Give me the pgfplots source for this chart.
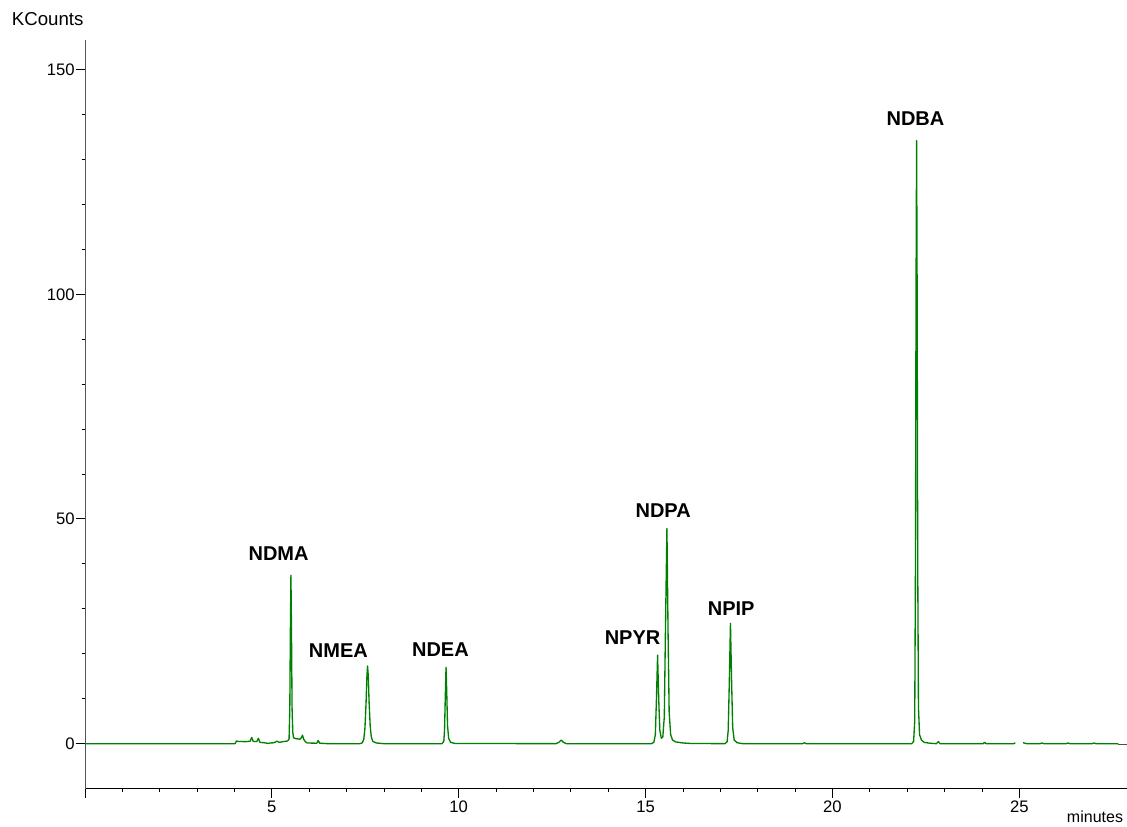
\documentclass[border=0pt]{standalone}
\usepackage{fontspec}
\setmainfont{Liberation Sans}
\usepackage{pgfplots}
\pgfplotsset{compat=1.18}
\definecolor{trace}{RGB}{0,128,0}
\definecolor{yax}{RGB}{85,85,85}
\begin{document}
\begin{tikzpicture}
\begin{axis}[
  at={(0,0)}, anchor=south west,
  scale only axis, width=781.5pt, height=561.45pt,
  xmin=0, xmax=27.88, ymin=-10, ymax=156.6,
  axis x line=bottom, axis y line=left, axis line style={-},
  x axis line style={black, line width=0.75pt},
  y axis line style={yax, line width=0.75pt},
  tick align=outside,
  every tick/.style={black, line width=0.75pt},
  xtick={0,5,10,15,20,25}, xticklabels={,5,10,15,20,25},
  minor x tick num=4,
  ytick={0,50,100,150}, minor y tick num=4,
  major tick length=7pt, minor tick length=2.6pt,
  /pgf/number format/assume math mode=true,
  tick label style={font=\fontsize{12.5}{14}\selectfont},
  yticklabel style={inner sep=0.6pt},
  xticklabel style={inner sep=2pt},
  clip=false,
]
\addplot[trace, line width=1pt, line join=round] coordinates {
(0,0) (4.0,0) (4.02,0.05) (4.05,0.6) (4.1,0.5) (4.3,0.45) (4.42,0.55) (4.46,1.4) (4.5,0.5)
(4.6,0.5) (4.64,1.2) (4.68,0.3) (4.8,0.2) (4.9,0.05) (4.95,0.15) (5.05,0.2) (5.14,0.55)
(5.2,0.3) (5.3,0.45) (5.42,0.6)
(5.46,1.0) (5.48,8) (5.495,25) (5.51,37.5) (5.525,25) (5.54,8) (5.56,2.5) (5.58,1.3)
(5.65,1.1) (5.75,1.0) (5.79,1.3) (5.82,1.9) (5.85,1.0) (5.9,0.4) (5.95,0.15) (6.2,0.1)
(6.24,0.7) (6.28,0.1) (6.5,0.0)
(7.35,0) (7.42,0.2) (7.46,1.0) (7.49,3.5) (7.52,9) (7.54,14.5) (7.56,17.3) (7.58,15)
(7.60,9.5) (7.63,4) (7.66,1.5) (7.7,0.5) (7.8,0.15) (8.0,0.0)
(9.55,0) (9.6,0.5) (9.62,3) (9.64,10.5) (9.66,17.0) (9.68,11) (9.70,4) (9.73,1.2)
(9.78,0.3) (9.9,0.05)
(12.6,0) (12.68,0.3) (12.74,0.8) (12.8,0.3) (12.88,0)
(15.15,0) (15.22,0.3) (15.26,2) (15.29,10) (15.32,19.7) (15.35,10) (15.38,3) (15.42,1.2)
(15.46,1.5) (15.50,6) (15.53,25) (15.57,47.9) (15.60,25) (15.63,7) (15.67,2) (15.72,0.8)
(15.8,0.4) (16.0,0.15) (16.2,0.05)
(17.12,0) (17.18,0.4) (17.21,3) (17.24,14) (17.27,26.8) (17.30,14) (17.33,3.5) (17.37,0.8)
(17.45,0.2) (17.6,0)
(19.2,0) (19.25,0.2) (19.3,0)
(22.12,0) (22.17,0.5) (22.2,5) (22.22,40) (22.235,100) (22.25,134.2) (22.265,100)
(22.28,40) (22.30,8) (22.33,2) (22.38,0.8) (22.45,0.3) (22.6,0.1)
(22.78,0) (22.83,0.45) (22.88,0) (24.03,0) (24.07,0.3) (24.11,0) (24.85,0) (24.89,0.2)
};
\addplot[trace, line width=1pt, line join=round] coordinates {
(25.1,0.2) (25.2,0) (25.55,0) (25.6,0.15) (25.65,0) (26.25,0) (26.3,0.15) (26.35,0)
(26.95,0) (27.0,0.15) (27.05,0) (27.65,0)
};
\addplot[black!70, line width=1.2pt] coordinates {(27.65,-0.2) (27.88,-0.2)};
\tikzset{lab/.style={font=\fontsize{15}{18}\selectfont\bfseries, inner sep=0pt}}
\node[lab] at (axis cs:5.18,42.4) {NDMA};
\node[lab] at (axis cs:6.78,20.6) {NMEA};
\node[lab] at (axis cs:9.51,20.9) {NDEA};
\node[lab] at (axis cs:14.65,23.7) {NPYR};
\node[lab] at (axis cs:15.47,51.8) {NDPA};
\node[lab] at (axis cs:17.29,30.0) {NPIP};
\node[lab] at (axis cs:22.22,139.2) {NDBA};
\end{axis}
\node[anchor=base west, inner sep=0pt, font=\fontsize{14}{16}\selectfont] at (-55pt,572.5pt) {KCounts};
\node[anchor=base east, inner sep=0pt, font=\fontsize{12}{14}\selectfont] at (778.7pt,-25.6pt) {minutes};
\pgfresetboundingbox
\useasboundingbox (-63.75pt,-28.05pt) rectangle (781.5pt,591.45pt);
\end{tikzpicture}
\end{document}
